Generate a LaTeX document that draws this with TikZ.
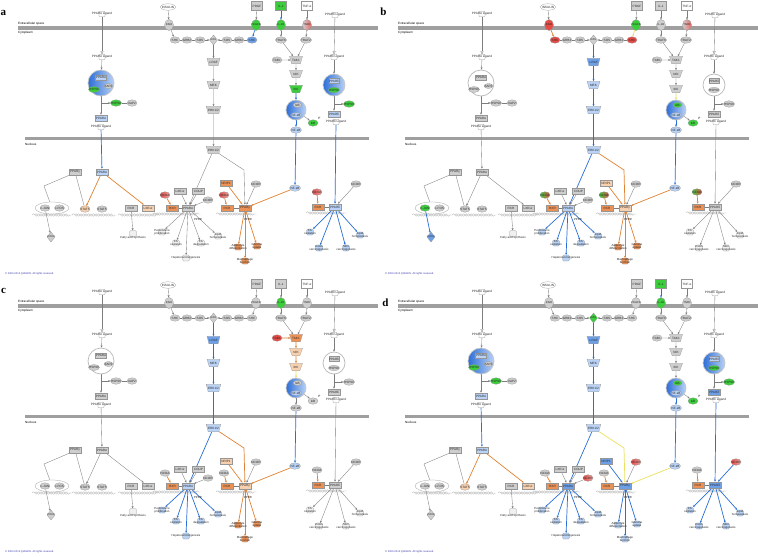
\documentclass[tikz,border=0pt]{standalone}
\usepackage{fontspec}
\setmainfont{Liberation Sans}
\newfontfamily\letterfont{Liberation Serif}
\usetikzlibrary{shapes.geometric,arrows.meta,decorations.pathmorphing}
\pgfdeclarelayer{back}
\pgfdeclarelayer{mid}
\pgfsetlayers{back,mid,main}

\definecolor{gcol}{RGB}{206,206,206}
\definecolor{bD}{RGB}{45,110,215}
\definecolor{bL}{RGB}{185,210,245}
\definecolor{bM}{RGB}{110,160,232}
\definecolor{gn}{RGB}{60,205,60}
\definecolor{rd}{RGB}{230,75,70}
\definecolor{pk}{RGB}{235,165,160}
\definecolor{oD}{RGB}{236,145,85}
\definecolor{oL}{RGB}{247,208,175}
\definecolor{eG}{RGB}{125,125,125}
\definecolor{eB}{RGB}{40,110,215}
\definecolor{eO}{RGB}{225,130,50}
\definecolor{eY}{RGB}{235,225,95}
\definecolor{cpyc}{RGB}{60,60,170}
\definecolor{bord}{RGB}{150,150,150}

\tikzset{
 ft/.style={font=\fontsize{3.1}{3.5}\selectfont},
 nd/.style={draw=bord, line width=0.25pt, fill=gcol, inner sep=0.4pt, ft, text=black!85, align=center},
 el/.style={nd, ellipse, minimum width=10, minimum height=6.5, inner xsep=-1pt},
 bx/.style={nd, rectangle, minimum width=12, minimum height=6.5},
 kin/.style={nd, trapezium, shape border rotate=180, trapezium angle=58, minimum height=7.5, minimum width=13, trapezium stretches=true, inner xsep=0pt},
 dm/.style={nd, diamond, minimum width=8, minimum height=10, inner sep=-1pt, font=\fontsize{2.7}{3}\selectfont},
 rc/.style={nd, ellipse, minimum width=9, minimum height=11, inner xsep=-1.8pt, font=\fontsize{2.7}{3}\selectfont},
 sq/.style={nd, rectangle, minimum width=11, minimum height=9},
 cx/.style={circle, draw=gray!55, line width=0.7pt, fill=white, minimum size=26, inner sep=0},
 lig/.style={draw=bord, fill=white, line width=0.25pt, minimum width=6, minimum height=5, inner sep=0, rounded corners=0.6pt},
 lt/.style={ft, inner sep=0, text=black!85},
 fn/.style={draw=bord, line width=0.25pt, fill=gray!12, minimum width=7, minimum height=6, inner sep=0, rounded corners=1.2pt},
 ftx/.style={inner sep=0, align=center, text=black!85, font=\fontsize{2.9}{3.2}\selectfont},
 cpy/.style={anchor=west, inner sep=0, text=cpyc, font=\fontsize{2.6}{3}\selectfont},
 memb/.style={fill=gray!75},
 ed/.style={draw=eG, line width=0.35pt, -{Stealth[length=2.2pt,width=2pt]}},
 ln/.style={draw=eG, line width=0.35pt},
 op/.style={-{Triangle[open,length=3pt,width=3pt]}},
 dna/.style={draw=gray!55, line width=0.3pt, decorate, decoration={snake, amplitude=1.3pt, segment length=5pt}},
 EB/.style={draw=eB, line width=0.7pt},
 EO/.style={draw=eO, line width=0.7pt},
 EY/.style={draw=eY, line width=0.7pt},
 fB/.style={fill=bL},
 fBM/.style={fill=bM},
 fBG/.style={left color=bD, right color=bL, draw=gray!45},
 fG/.style={fill=gn},
 fR/.style={fill=rd},
 fRL/.style={left color=rd, right color=pk},
 fO/.style={fill=oD},
 fOL/.style={fill=oL},
 fGR/.style={left color=gn, right color=rd},
 fP/.style={left color=gcol, right color=rd!85},
 letter/.style={font=\letterfont\bfseries\fontsize{11}{11}\selectfont, inner sep=0},
}

\newcommand\Lig[3]{\node[lig] (#1) at (#2) {}; \node[lt] (#1t) at (#2) {#3};}
\newcommand\Fn[4]{\node[fn, #2/.try] (#1) at (#3) {}; \node[ftx] (#1t) at (#3) {#4};}
\newcommand\DNA[3]{\draw[dna] (#1,#3) -- (#2,#3); \draw[dna] (#1+2.5,#3) -- (#2+2.5,#3);}

\newcommand\drawpanel{%
\begin{pgfonlayer}{back}
\fill[memb] (18,26) rectangle (378,29.5);
\fill[memb] (25,137) rectangle (369,140);
\end{pgfonlayer}
\node[ft, anchor=south west, inner sep=0] (txE) at (18,25.3) {Extracellular space};
\node[ft, anchor=north west, inner sep=0] (txC) at (18,30.8) {Cytoplasm};
\node[ft, anchor=north west, inner sep=0] (txN) at (25,143) {Nucleus};
\node[cpy] (txQ) at (5,274) {© 2000-2013 QIAGEN. All rights reserved.};
% PPAR alpha column
\Lig{La1}{102,14}{PPARα Ligand}
\Lig{La2}{102,57}{PPARα Ligand}
\node[cx, cCA/.try] (CA) at (101,83) {};
\node[bx, minimum width=10, minimum height=5, cCAp/.try] (CAp) at (101,77.5) {PPARα};
\node[el, minimum width=9, minimum height=5, cCAx/.try] (CAx) at (108.5,86) {XAP2};
\node[el, minimum width=9, minimum height=6, cCAh/.try] (CAh) at (94,89.5) {HSP90};
\coordinate (ja) at (101,103);
\node[el, cHa/.try] (Ha) at (116,103) {HSP90};
\node[el] (Xa) at (132,103) {XAP2};
\node[bx, cPA/.try] (PA) at (101,118) {PPARα};
\Lig{La3}{101,127}{PPARα Ligand}
% insulin / PDGF / RAS
\node[el, fill=white, minimum width=15] (INS) at (168,7) {INSULIN};
\node[rc, cINSR/.try] (INSR) at (169,25) {INSR};
\node[el, cSHCa/.try] (SHCa) at (175,40) {SHC};
\node[el] (GRBa) at (187,40) {GRB2};
\node[el] (SOSa) at (200,40) {SOS};
\node[dm, cRAS/.try] (RAS) at (213.5,40) {RAS};
\node[el] (SOSb) at (227,40) {SOS};
\node[el] (GRBb) at (239,40) {GRB2};
\node[el, cSHCb/.try] (SHCb) at (252,40) {SHC};
\node[sq] (PDGF) at (257,6) {PDGF};
\node[rc, cPDGFR/.try] (PDGFR) at (256,25) {PDGFR};
\node[kin, cRAF/.try] (RAF) at (213.5,62) {c-RAF};
\node[kin, cMEK/.try] (MEK) at (213.5,85) {MEK};
\node[kin, cERK/.try] (ERK) at (213.5,110) {ERK1/2};
% IL-1 / TNF / NF-kB
\node[sq, cIL1/.try] (IL1) at (281,6) {IL-1};
\node[rc, cIL1R/.try] (IL1R) at (281,25) {IL-1R};
\node[sq, fill=white] (TNF) at (307,6) {TNF-α};
\node[rc, cTNFR/.try] (TNFR) at (307,25) {TNFR};
\node[el] (TRAF6) at (281,40) {TRAF6};
\node[el] (TRAF2) at (306,40) {TRAF2};
\node[el, cTAB/.try] (TAB) at (277,60) {TAB1};
\node[kin, cTAK/.try] (TAK) at (296,60) {TAK1};
\node[kin, cNIK/.try] (NIK) at (296,74) {NIK};
\node[kin, cIKK/.try] (IKK) at (296,89) {IKK};
\node[cx, minimum size=20, cNC/.try] (NC) at (296,110) {};
\node[el, minimum width=9, minimum height=5, cNCi/.try] (NCi) at (297.5,105) {IκB};
\node[el, minimum width=11, minimum height=5, cNCn/.try] (NCn) at (296,115) {NF-κB};
\node[el, cIKB/.try] (IKB) at (313,123) {IκB};
\node[ft, inner sep=0] (IKBp) at (319.5,118.5) {P};
\node[el, minimum width=11, cNFK/.try] (NFK) at (296,130) {NF-κB};
% PPAR delta column
\Lig{Ld1}{335,15}{PPARδ Ligand}
\Lig{Ld2}{334,57}{PPARδ Ligand}
\node[cx, minimum size=22, cCD/.try] (CD) at (334,85) {};
\node[bx, minimum width=10, minimum height=5, cCDp/.try] (CDp) at (334,81) {PPARδ};
\node[el, minimum width=9, minimum height=5.5, cCDh/.try] (CDh) at (334,90) {HSP90};
\coordinate (jd) at (334,104);
\node[el, cHd/.try] (Hd) at (349,104) {HSP90};
\node[bx, cPD/.try] (PD) at (334,114) {PPARδ};
\Lig{Ld3}{336,122}{PPARδ Ligand}
% nucleus, left
\node[kin, cERKn/.try] (ERKn) at (213.5,150) {ERK1/2};
\node[bx] (PGl) at (75,172) {PPARγ};
\node[bx, cPAl/.try] (PAl) at (102,172) {PPARα};
\node[draw=bord, line width=0.25pt, ellipse, minimum width=34, minimum height=12] (JF) at (52,208) {};
\node[el, cJUN/.try] (JUN) at (45,208) {c-JUN};
\node[el] (FOS) at (59.5,208) {c-FOS};
\node[el, cST/.try] (STa) at (85,209) {STAT5};
\node[el] (STb) at (102,209) {STAT5};
\node[bx] (RXRl) at (131,208) {RXR};
\node[bx, cLXRl/.try] (LXRl) at (148,208) {LXR-α};
\node[dm, cCOX/.try] (COX) at (51,237) {COX2};
\node[fn] (FAS) at (133,233.5) {};
\node[ftx] (FASt) at (133,237.5) {Fatty acid synthesis};
% nucleus, PPAR alpha
\node[el, cNCOAa/.try] (NCOAa) at (165,195) {NCOA};
\node[bx] (LXRm) at (180,191) {LXR-α};
\node[bx] (COUP) at (198.5,191) {COUP};
\node[el, cNCORa/.try] (NCORa) at (208,200) {NCOR};
\node[bx, cRXRa/.try] (RXRa) at (172.5,208) {RXR};
\node[bx, cPPa/.try] (PPa) at (188,208) {PPARα};
\node[ftx] (PPREa) at (198,219.5) {PPRE};
\Fn{PerP}{cFa}{162,232}{Peroxisome\\proliferation}
\Fn{FAox}{cFa}{176,243}{FA\\oxidation}
\Fn{FAdeg}{cFa}{201,243}{FA\\degradation}
\Fn{LipH}{cFa}{218,236}{Lipid\\homeostasis}
\Fn{Hep}{cFa}{186,258}{Hepatocarcinogenesis}
% nucleus, PPAR gamma
\node[bx, cNRIP/.try] (NRIP) at (226,183) {NRIP1};
\node[el, cNCORg/.try] (NCORg) at (256,184) {NCOR};
\node[el, cNCOAg/.try] (NCOAg) at (224,195) {NCOA};
\node[bx, cRXRg/.try] (RXRg) at (227,208) {RXR};
\node[bx, cPPg/.try] (PPg) at (245,208) {PPARγ};
\node[ftx] (PPREg) at (248,219.5) {PPRE};
\Fn{Adip}{cFg}{238,247}{Adipocyte\\differentiation}
\Fn{Gluc}{cFg}{257,246}{Glucose\\uptake}
\Fn{Macro}{cFg}{245,261}{Macrophage\\function}
\node[el, minimum width=11, cNFKn/.try] (NFKn) at (295,188) {NF-κB};
% nucleus, PPAR delta
\node[el, cNCOAd/.try] (NCOAd) at (317,192) {NCOA};
\node[el, cNCORd/.try] (NCORd) at (356,184) {NCOR};
\node[bx, cRXRd/.try] (RXRd) at (318,207) {RXR};
\node[bx, cPPd/.try] (PPd) at (335,207) {PPARδ};
\Fn{FAoxd}{cFd}{310,232}{FA\\oxidation}
\Fn{Colon}{cFd}{319,248}{Colon\\carcinogenesis}
\Fn{Skin}{cFd}{346,248}{Skin\\carcinogenesis}
\Fn{Lipd}{cFd}{360,235}{Lipid\\homeostasis}
% connectors
\begin{pgfonlayer}{mid}
\DNA{32}{70}{215}
\DNA{72}{113}{215}
\DNA{118}{157}{215}
\DNA{153}{198}{214}
\DNA{216}{254}{214}
\DNA{306}{344}{213}
\draw[ed, op] (La1) -- (La2);
\draw[ed] (La2) -- (CA);
\draw[ed] (CA) -- (PA);
\draw[ed] (ja) -- (Ha);
\draw[ln] (Ha) -- (Xa);
\draw[ed, ePA/.try] (La3) -- (PAl);
\draw[ed] (INS) -- (INSR);
\draw[ed, eINSR/.try] (INSR) -- (SHCa);
\draw[ln] (SHCa) -- (GRBa);
\draw[ln] (GRBa) -- (SOSa);
\draw[ed] (SOSa) -- (RAS);
\draw[ed] (SOSb) -- (RAS);
\draw[ln] (GRBb) -- (SOSb);
\draw[ln] (SHCb) -- (GRBb);
\draw[ed] (PDGF) -- (PDGFR);
\draw[ed, ePDGFR/.try] (PDGFR) -- (SHCb);
\draw[ed, eRAS/.try] (RAS) -- (RAF);
\draw[ed, eRAF/.try] (RAF) -- (MEK);
\draw[ed, eMEK/.try] (MEK) -- (ERK);
\draw[ed, eERK/.try] (ERK) -- (ERKn);
\draw[ed, eIL1/.try] (IL1) -- (IL1R);
\draw[ed] (IL1R) -- (TRAF6);
\draw[ed] (TRAF6) -- (TAK);
\draw[ed] (TNF) -- (TNFR);
\draw[ed] (TNFR) -- (TRAF2);
\draw[ed] (TRAF2) -- (TAK);
\draw[ed, eTAB/.try] (TAB) -- (TAK);
\draw[ed, eTAK/.try] (TAK) -- (NIK);
\draw[ed, eNIK/.try] (NIK) -- (IKK);
\draw[ed, eIKK/.try] (IKK) -- (NC);
\draw[ed, eNC/.try] (NC) -- (NFK);
\draw[ed] (NC) -- (IKB);
\draw[ed, eNFK/.try] (NFK) -- (NFKn);
\draw[ed, op] (Ld1) -- (Ld2);
\draw[ed] (Ld2) -- (CD);
\draw[ed] (CD) -- (PD);
\draw[ed] (jd) -- (Hd);
\draw[ed, ePD/.try] (Ld3) -- (PPd);
\draw[ln] (PGl.south west) -- (44,186) -- (JF);
\draw[ln] (PGl) -- (STa);
\draw[ed, ePAS/.try] (PAl) -- (STa);
\draw[ed, ePAL/.try] (PAl) -- (LXRl);
\draw[ed, eJUN/.try] (JUN) -- (COX);
\draw[ed] (RXRl) -- (FAS);
\draw[ed, eEa/.try] (ERKn) -- (PPa);
\draw[ed, eEg/.try] (ERKn) -- (244,170) -- (PPg);
\draw[ed, eNFg/.try] (NFKn) -- (PPg);
\draw[ed, eNCa/.try] (NCOAa) -- (RXRa);
\draw[ed] (LXRm) -- (PPa);
\draw[ed] (COUP) -- (PPa);
\draw[ed, eNCORa/.try] (NCORa) -- (PPa);
\draw[ln] (RXRa) -- (PPa);
\foreach \f in {PerP,FAox,FAdeg,LipH,Hep} \draw[ed, ePPa/.try] (PPa) -- (\f);
\draw[ed, eNR/.try] (NRIP) -- (PPg);
\draw[ed, eNCg/.try] (NCORg) -- (PPg);
\draw[ed, eNCOAg/.try] (NCOAg) -- (RXRg);
\draw[ln] (RXRg) -- (PPg);
\foreach \f in {Adip,Gluc,Macro} \draw[ed, ePPg/.try] (PPg) -- (\f);
\draw[ed, eNCd/.try] (NCORd) -- (PPd);
\draw[ed, eNCOAd/.try] (NCOAd) -- (RXRd);
\draw[ln] (RXRd) -- (PPd);
\foreach \f in {FAoxd,Colon,Skin,Lipd} \draw[ed, ePPd/.try] (PPd) -- (\f);
\end{pgfonlayer}
}

\begin{document}
\begin{tikzpicture}[x=1pt,y=-1pt]
\begin{pgfonlayer}{back}
\fill[white] (0,0) rectangle (758,557);
\end{pgfonlayer}
\useasboundingbox (0,0) rectangle (758,557);

% ---------- panel a ----------
\begin{scope}[name prefix=a-]
\tikzset{cCA/.style=fBG, cCAp/.style=fB, cCAh/.style=fG, cHa/.style=fG, cPA/.style=fB, ePA/.style=EB,
 cSHCb/.style=fBM, ePDGFR/.style=EB, cPDGFR/.style=fG, cIL1/.style=fG, cIL1R/.style=fG, eIL1/.style=EB, cTNFR/.style=fP,
 cIKK/.style=fG, eIKK/.style=EB, cNC/.style=fBG, cNCn/.style=fB, cIKB/.style=fG, cNFK/.style=fB, eNC/.style=EB, eNFK/.style=EB, cNFKn/.style=fB,
 cCD/.style=fBG, cCDp/.style=fB, cCDh/.style=fG, cHd/.style=fG, cPD/.style=fB, ePD/.style=EB,
 cPAl/.style=fB, ePAS/.style=EO, ePAL/.style=EO, cST/.style=fOL, cLXRl/.style=fOL,
 cNCOAa/.style=fRL, cRXRa/.style=fO, eNCa/.style=EO,
 cNRIP/.style=fO, cNCOAg/.style=fRL, cRXRg/.style=fO, cPPg/.style=fO, eNCOAg/.style=EO, eNR/.style=EO, ePPg/.style=EO, cFg/.style=fO, eNFg/.style=EO,
 cNCOAd/.style=fRL, cRXRd/.style=fO, eNCOAd/.style=EO, cPPd/.style=fB, ePPd/.style=EB, cFd/.style=fB}
\node[letter] (lab) at (3.5,12.5) {a};
\drawpanel
\end{scope}

% ---------- panel b ----------
\begin{scope}[shift={(380,0)}, name prefix=b-]
\tikzset{cINSR/.style=fR, cSHCa/.style=fR, eINSR/.style=EO, cPDGFR/.style=fG, cSHCb/.style=fR, ePDGFR/.style=EY,
 cRAF/.style=fBM, cMEK/.style=fB, cERK/.style=fB, eRAS/.style=EB, eRAF/.style=EB, eMEK/.style=EB, eERK/.style=EB, cERKn/.style=fB, eEa/.style=EB, eEg/.style=EO,
 cTNFR/.style=fP, eIKK/.style=EY, cNC/.style=fBG, cNCi/.style=fG, cNCn/.style=fB, cIKB/.style=fG, cNFK/.style=fB, eNC/.style=EB, eNFK/.style=EB, cNFKn/.style=fB, eNFg/.style=EO,
 cJUN/.style=fG, eJUN/.style=EB, cCOX/.style=fBM,
 cNCOAa/.style=fGR, cRXRa/.style=fO, eNCa/.style=EO, cPPa/.style=fB, ePPa/.style=EB, cFa/.style=fB,
 cNRIP/.style=fOL, cNCOAg/.style=fGR, cRXRg/.style=fO, cPPg/.style=fOL, eNCOAg/.style=EO, eNR/.style=EO, ePPg/.style=EO, cFg/.style=fO,
 cNCOAd/.style=fGR, cRXRd/.style=fO, eNCOAd/.style=EO}
\node[letter] (lab) at (3.5,11.5) {b};
\drawpanel
\end{scope}

% ---------- panel c ----------
\begin{scope}[shift={(0,278)}, name prefix=c-]
\tikzset{cIL1R/.style=fG, cTAB/.style=fR, cTAK/.style=fO, cNIK/.style=fOL, cIKK/.style=fOL, eTAB/.style=EO, eTAK/.style=EO, eNIK/.style=EO, eIKK/.style=EY,
 cNC/.style=fBG, cNCn/.style=fB, cNFKn/.style=fB, eNFK/.style=EB, eNFg/.style=EO,
 cRAF/.style=fBM, cMEK/.style=fB, cERK/.style=fB, eRAS/.style=EB, eRAF/.style=EB, eMEK/.style=EB, eERK/.style=EB, cERKn/.style=fB, eEa/.style=EB, eEg/.style=EO,
 cRXRa/.style=fO, eNCa/.style=EO, cPPa/.style=fB, ePPa/.style=EB, cFa/.style=fB,
 cNRIP/.style=fOL, cRXRg/.style=fO, cPPg/.style=fOL, eNCOAg/.style=EO, eNR/.style=EO, ePPg/.style=EO, cFg/.style=fO,
 cRXRd/.style=fO, eNCOAd/.style=EO}
\node[letter] (lab) at (3.5,12.5) {c};
\drawpanel
\end{scope}

% ---------- panel d ----------
\begin{scope}[shift={(380,278)}, name prefix=d-]
\tikzset{cIL1/.style=fG, cIL1R/.style=fG, eIL1/.style=EB, cRAS/.style=fG, eRAS/.style=EB, cRAF/.style=fBM, cMEK/.style=fB, cERK/.style=fB, eRAF/.style=EB, eMEK/.style=EB, eERK/.style=EB, cERKn/.style=fB, eEa/.style=EB, eEg/.style=EY,
 cCA/.style=fBG, cCAp/.style=fB, cCAh/.style=fG, cHa/.style=fG, cPA/.style=fB, ePA/.style=EB,
 cNC/.style=fBG, cNCi/.style=fG, cNCn/.style=fB, cIKB/.style=fG, cNFK/.style=fB, eNC/.style=EB, eNFK/.style=EB, cNFKn/.style=fB, eNFg/.style=EY,
 cCD/.style=fBG, cCDp/.style=fB, cCDh/.style=fG, cHd/.style=fG, cPD/.style=fBM, ePD/.style=EB,
 cPAl/.style=fB, ePAS/.style=EO, ePAL/.style=EO, cST/.style=fOL, cLXRl/.style=fOL,
 eNCa/.style=EO, cRXRa/.style=fO, cPPa/.style=fBM, cNCORa/.style=fRL, ePPa/.style=EB, cFa/.style=fB,
 cNRIP/.style=fBM, eNR/.style=EB, cNCORg/.style=fRL, eNCOAg/.style=EO, cRXRg/.style=fO, cPPg/.style=fBM, ePPg/.style=EB, cFg/.style=fB,
 eNCOAd/.style=EO, cRXRd/.style=fO, cPPd/.style=fBM, cNCORd/.style=fRL, eNCd/.style=EB, ePPd/.style=EB, cFd/.style=fB}
\node[letter] (lab) at (5.5,24.5) {d};
\drawpanel
\end{scope}
\end{tikzpicture}
\end{document}
